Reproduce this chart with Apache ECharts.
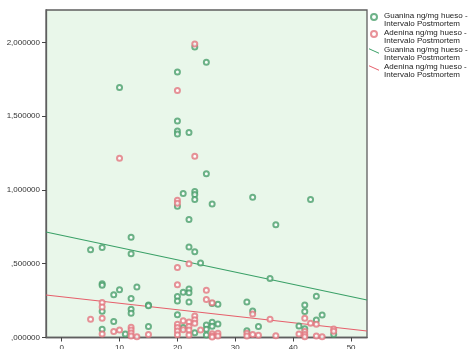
<!DOCTYPE html>
<html><head><meta charset="utf-8">
<script src="https://cdn.jsdelivr.net/npm/echarts@6/dist/echarts.min.js"></script>
<style>html,body{margin:0;padding:0;background:#fff}#c{width:471px;height:349px}</style>
</head><body><div id="c"></div>
<script>
const nameG = 'Guanina ng/mg hueso - Intervalo Postmortem';
const nameA = 'Adenina ng/mg hueso - Intervalo Postmortem';
const xTicks = [0, 10, 20, 30, 40, 50];
const yTicks = [0, 0.5, 1.0, 1.5, 2.0];
const guanina = [
  [10,1.695],[12,0.68],[23,1.97],[25,1.865],[20,1.80],[20,1.468],[20,1.40],[20,1.38],
  [22,1.39],[25,1.11],[23,0.99],[23,0.97],[21,0.976],[23,0.935],[20,0.89],[26,0.905],
  [33,0.95],[43,0.935],[22,0.80],[37,0.765],[5,0.595],[7,0.61],[12,0.568],[7,0.365],
  [7,0.355],[10,0.323],[9,0.289],[13,0.343],[12,0.265],[15,0.22],[15,0.215],[7,0.178],[12,0.192],
  [12,0.165],[9,0.108],[15,0.074],[7,0.056],[11,0.024],[22,0.613],[23,0.582],[24,0.505],
  [21,0.307],[22,0.328],[22,0.303],[20,0.278],[20,0.248],[22,0.24],[26,0.23],[27,0.226],
  [32,0.24],[20,0.155],[26,0.103],[27,0.092],[25,0.085],[26,0.076],[21,0.067],[23,0.033],
  [25,0.056],[25,0.017],[32,0.046],[33,0.18],[34,0.074],[36,0.40],[44,0.28],[42,0.221],
  [42,0.176],[45,0.153],[44,0.119],[41,0.078],[42,0.06],[47,0.022]
];
const adenina = [
  [10,1.215],[23,1.99],[20,1.675],[23,1.228],[20,0.93],[20,0.91],[7,0.237],[7,0.207],
  [5,0.124],[7,0.13],[7,0.024],[9,0.04],[10,0.05],[12,0.07],[12,0.05],[12,0.03],[12,0.01],
  [15,0.02],[13,0.005],[22,0.50],[20,0.475],[20,0.357],[25,0.321],[25,0.257],[26,0.235],
  [23,0.146],[23,0.12],[21,0.114],[22,0.105],[23,0.097],[20,0.09],[20,0.067],[20,0.044],
  [20,0.019],[21,0.053],[22,0.074],[22,0.051],[22,0.017],[24,0.05],[26,0.026],[26,0.01],
  [26,0.003],[27,0.029],[27,0.01],[32,0.029],[32,0.01],[33,0.16],[33,0.02],[34,0.015],
  [36,0.124],[37,0.012],[42,0.13],[43,0.096],[44,0.09],[42,0.04],[42,0.02],[42,0.005],
  [41,0.024],[44,0.01],[45,0.005],[47,0.058],[47,0.043]
];
const fitX = [-2.7, 52.75];
const guaninaFit = [0.715, 0.254];
const adeninaFit = [0.288, 0.044];

const cG = '#4a9f6b', cA = '#e27780', lG = '#3aa067', lA = '#e65f6b';
const font = 'Liberation Sans';
const fmtY = v => { let s = v.toFixed(6).replace('.', ','); if (s.startsWith('0')) s = s.slice(1); return s; };
const chart = echarts.init(document.getElementById('c'), null, {renderer: 'canvas'});
chart.setOption({
  animation: false,
  backgroundColor: '#ffffff',
  grid: {left: 46, top: 10, right: 104, bottom: 11.5, show: true, backgroundColor: '#e9f7ea',
         borderColor: '#5f5f5f', borderWidth: 1.3, containLabel: false, outerBoundsMode: 'none'},
  xAxis: {type: 'value', min: -2.7, max: 52.75,
    axisLine: {show: true, onZero: false, lineStyle: {color: '#5f5f5f', width: 1.3}},
    axisTick: {show: true, length: 4, customValues: xTicks, lineStyle: {color: '#444'}},
    axisLabel: {customValues: xTicks, fontSize: 8, color: '#333', fontFamily: font, margin: 6},
    splitLine: {show: false}},
  yAxis: {type: 'value', min: 0, max: 2.22,
    axisLine: {show: true, onZero: false, lineStyle: {color: '#5f5f5f', width: 1.3}},
    axisTick: {show: true, length: 4, customValues: yTicks, lineStyle: {color: '#444'}},
    axisLabel: {customValues: yTicks, fontSize: 8, color: '#333', fontFamily: font, margin: 6, formatter: fmtY},
    splitLine: {show: false}},
  legend: {orient: 'vertical', left: 369, top: 6, padding: 0, itemGap: -5, itemWidth: 10, itemHeight: 6,
    textStyle: {fontSize: 8, color: '#222', fontFamily: font,
      rich: {t: {fontSize: 8, lineHeight: 8.5, color: '#222', fontFamily: font, padding: [5.5, 0, 0, 0]}}},
    formatter: n => '{t|' + n.trim().replace(' - ', ' -\n') + '}',
    data: [
      {name: nameG, icon: 'emptyCircle'},
      {name: nameA, icon: 'emptyCircle'},
      {name: nameG + ' ', icon: 'path://M0,0L10,4.5L10,5.5L0,1Z'},
      {name: nameA + ' ', icon: 'path://M0,0L10,4.5L10,5.5L0,1Z'}
    ]},
  series: [
    {name: nameG, type: 'scatter', data: guanina, symbol: 'emptyCircle', symbolSize: 5,
     itemStyle: {color: cG, borderColor: cG, borderWidth: 1}, z: 3},
    {name: nameA, type: 'scatter', data: adenina, symbol: 'emptyCircle', symbolSize: 5,
     itemStyle: {color: cA, borderColor: cA, borderWidth: 1}, z: 3},
    {name: nameG + ' ', type: 'line', data: fitX.map((x, i) => [x, guaninaFit[i]]), showSymbol: false,
     lineStyle: {color: lG, width: 1.2}, itemStyle: {color: lG}, z: 2},
    {name: nameA + ' ', type: 'line', data: fitX.map((x, i) => [x, adeninaFit[i]]), showSymbol: false,
     lineStyle: {color: lA, width: 1.2}, itemStyle: {color: lA}, z: 2}
  ]
});
</script></body></html>
